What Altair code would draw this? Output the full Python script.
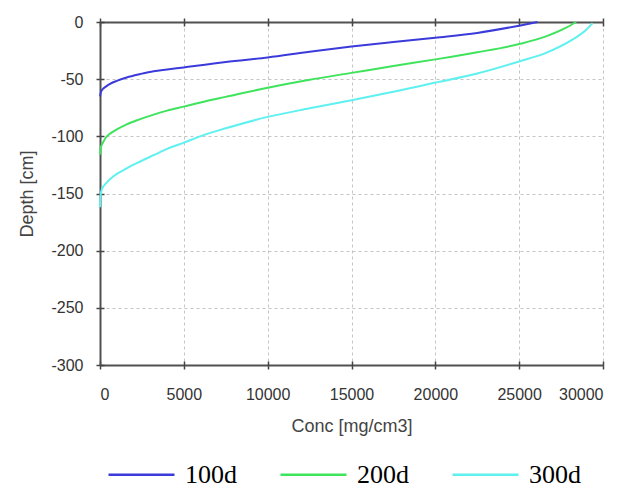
import altair as alt
import pandas as pd

# ---- data ----
conc_100 = [0, 60, 160, 350, 570, 1000, 1590, 2400, 3200, 4000, 5000, 6260, 7500, 10000, 12500, 15000,
            17500, 20000, 22500, 25000, 26100]
depth_100 = [-65, -61, -58.8, -56.5, -54.4, -51.5, -48.5, -45.5, -43, -41.5, -39.7, -37.4, -35, -31, -26,
             -21.5, -17.5, -13.7, -9.6, -3.2, 0]

conc_200 = [0, 40, 160, 350, 570, 1000, 1590, 2400, 3200, 4000, 5000, 6260, 7500, 10000, 12500, 15000,
            17500, 20000, 22500, 25000, 26600, 27800, 28400]
depth_200 = [-116, -110, -106, -101, -98, -94, -89.5, -85, -81, -77.5, -74, -69.5, -65.5, -57.5, -50.5,
             -44.5, -38.5, -32.7, -26.5, -19.3, -12.6, -5, 0]

conc_300 = [0, 30, 120, 370, 800, 1590, 2400, 3200, 4000, 5000, 6260, 7500, 10000, 12500, 15000, 17500,
            20000, 22500, 25000, 26600, 28000, 29000, 29380]
depth_300 = [-162, -152, -146, -141, -135, -128, -122, -116.5, -111, -105.5, -98.5, -93, -83, -75.5, -68.5,
             -61, -53, -45, -34.5, -27, -17, -6.7, -1]

series_names = ["100d", "200d", "300d"]
series_colors = ["#3b3bdc", "#3fe35c", "#5ff0f0"]

x_ticks = [0, 5000, 10000, 15000, 20000, 25000, 30000]
y_ticks = [0, -50, -100, -150, -200, -250, -300]

rows = []
for name, cs, ds in zip(series_names, [conc_100, conc_200, conc_300], [depth_100, depth_200, depth_300]):
    for i, (c, d) in enumerate(zip(cs, ds)):
        rows.append({"series": name, "conc": c, "depth": d, "idx": i})
df = pd.DataFrame(rows)

W, H = 503, 343
xs = alt.Scale(domain=[0, 30000], nice=False, zero=False)
ys = alt.Scale(domain=[-300, 0], nice=False, zero=False)

base = alt.Chart(df)

lines = base.mark_line(strokeWidth=2, interpolate="monotone").encode(
    x=alt.X("conc:Q", scale=xs, axis=alt.Axis(
        orient="bottom", title="Conc [mg/cm3]", values=x_ticks, grid=True,
        gridColor="#c4c4c4", gridDash=[3, 3], gridWidth=1,
        domainColor="#505050", domainWidth=2, tickColor="#444444", tickWidth=1.5, tickSize=4,
        labelFont="Liberation Sans", labelFontSize=16, labelColor="#333333", labelPadding=17,
        labelExpr="datum.value + ''",
        titleFont="Liberation Sans", titleFontSize=18, titleFontWeight="normal", titleColor="#444444",
        titlePadding=15)),
    y=alt.Y("depth:Q", scale=ys, axis=alt.Axis(
        orient="left", title="Depth [cm]", values=y_ticks, grid=True,
        gridColor="#c4c4c4", gridDash=[3, 3], gridWidth=1,
        domainColor="#505050", domainWidth=2, tickColor="#444444", tickWidth=1.5, tickSize=4,
        labelFont="Liberation Sans", labelFontSize=16, labelColor="#333333", labelPadding=13,
        labelExpr="datum.value + ''",
        titleFont="Liberation Sans", titleFontSize=18, titleFontWeight="normal", titleColor="#444444",
        titlePadding=14)),
    color=alt.Color("series:N", scale=alt.Scale(domain=series_names, range=series_colors),
                    legend=alt.Legend(orient="none", legendX=7, legendY=418, direction="horizontal",
                                      title=None, symbolType="stroke", symbolSize=4356,
                                      symbolStrokeWidth=2.5, labelFont="Liberation Serif",
                                      labelFontSize=26, labelColor="#000000", labelOffset=9,
                                      columnPadding=38, labelLimit=200)),
    order="idx:Q",
)

# top axis (outward ticks) and inward ticks on left
ax2 = base.mark_point(opacity=0).encode(
    x=alt.X("conc:Q", scale=xs, axis=alt.Axis(
        orient="top", title=None, labels=False, grid=False, values=x_ticks,
        domainColor="#505050", domainWidth=2, tickColor="#444444", tickWidth=1.5, tickSize=4)),
    y=alt.Y("depth:Q", scale=ys, axis=alt.Axis(
        orient="right", offset=-W, title=None, labels=False, grid=False, domain=False,
        values=y_ticks, tickColor="#444444", tickWidth=1.5, tickSize=4)),
)

# inward ticks on bottom
ax3 = base.mark_point(opacity=0).encode(
    x=alt.X("conc:Q", scale=xs, axis=alt.Axis(
        orient="top", offset=-H, title=None, labels=False, grid=False, domain=False,
        values=x_ticks, tickColor="#444444", tickWidth=1.5, tickSize=4)),
    y=alt.Y("depth:Q", scale=ys, axis=None),
)

# inward ticks on top
ax4 = base.mark_point(opacity=0).encode(
    x=alt.X("conc:Q", scale=xs, axis=alt.Axis(
        orient="bottom", offset=-H, title=None, labels=False, grid=False, domain=False,
        values=x_ticks, tickColor="#444444", tickWidth=1.5, tickSize=4)),
    y=alt.Y("depth:Q", scale=ys, axis=None),
)

chart = alt.layer(lines, ax2, ax3, ax4).resolve_axis(
    x="independent", y="independent"
).properties(
    width=W, height=H,
    autosize=alt.AutoSizeParams(type="none"),
    padding={"left": 100, "top": 22, "right": 26, "bottom": 123},
    background="#ffffff",
).configure_view(strokeWidth=0)

chart.save("out.html", embed_options={"renderer": "svg", "actions": False})
